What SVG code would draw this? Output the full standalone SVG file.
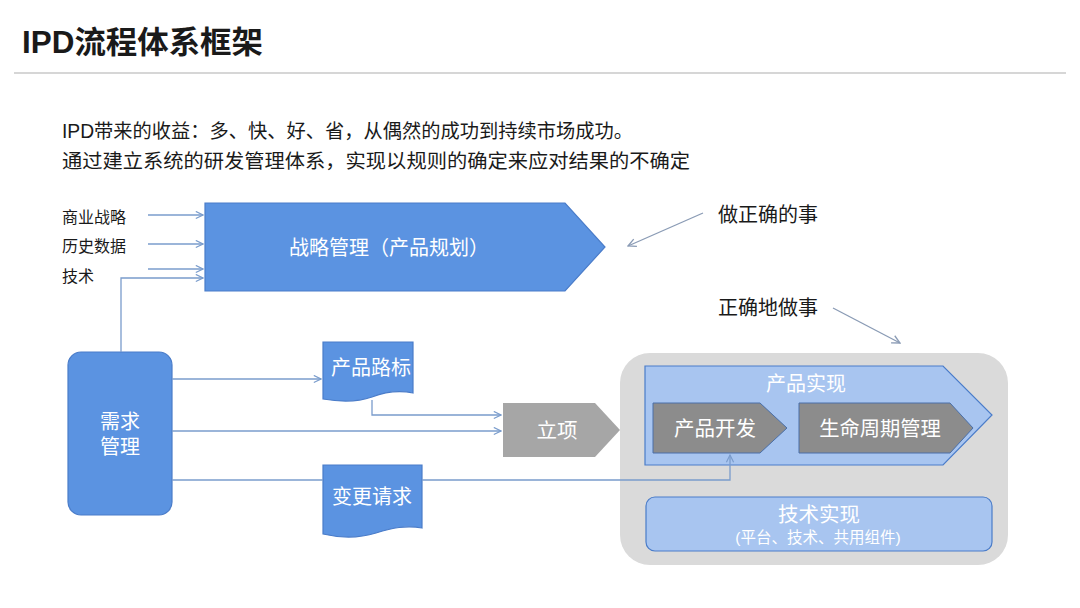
<svg xmlns="http://www.w3.org/2000/svg" width="1080" height="608" viewBox="0 0 1080 608">
<defs>
<style>
text{font-family:"Liberation Sans","Noto Sans CJK SC",sans-serif;}
.blk{fill:#1a1a1a;}
.wt{fill:#ffffff;}
.blue{fill:#5b93e1;stroke:#4a7cc9;stroke-width:1.2;}
.lb{fill:#a8c5f0;stroke:#4a7cc9;stroke-width:1.2;}
.gr{fill:#8c8c8c;stroke:#4a6fa8;stroke-width:1;}
.conn{fill:none;stroke:#7a9ccc;stroke-width:1.3;}
.ann{fill:none;stroke:#8a9bb5;stroke-width:1.3;}
</style>
<marker id="ah" viewBox="0 0 10 10" refX="9" refY="5" markerWidth="9" markerHeight="9" orient="auto" markerUnits="userSpaceOnUse">
<path d="M1,1 L9,5 L1,9" fill="none" stroke="#7a9ccc" stroke-width="1.3"/>
</marker>
<marker id="ah2" viewBox="0 0 10 10" refX="9" refY="5" markerWidth="10" markerHeight="10" orient="auto" markerUnits="userSpaceOnUse">
<path d="M1,1 L9,5 L1,9" fill="none" stroke="#8a9bb5" stroke-width="1.3"/>
</marker>
</defs>
<rect width="1080" height="608" fill="#ffffff"/>

<g id="header">
<text x="22" y="53" font-size="31" font-weight="bold" class="blk" textLength="241" lengthAdjust="spacingAndGlyphs">IPD流程体系框架</text>
<line x1="14" y1="73" x2="1066" y2="73" stroke="#c8c8c8" stroke-width="1.5"/>
<text x="62" y="138" font-size="19.5" class="blk" textLength="571" lengthAdjust="spacingAndGlyphs">IPD带来的收益：多、快、好、省，从偶然的成功到持续市场成功。</text>
<text x="62" y="168" font-size="19.5" class="blk" textLength="628" lengthAdjust="spacingAndGlyphs">通过建立系统的研发管理体系，实现以规则的确定来应对结果的不确定</text>
</g>

<g id="inputs">
<text x="62" y="223" font-size="16" class="blk">商业战略</text>
<text x="62" y="252" font-size="16" class="blk">历史数据</text>
<text x="62" y="282" font-size="16" class="blk">技术</text>
</g>

<g id="container">
<rect x="620" y="353" width="388" height="212" rx="30" fill="#dadada"/>
</g>

<g id="strategy">
<polygon points="205,203 565,203 605,247 565,291 205,291" class="blue"/>
<text x="389" y="255" font-size="20" text-anchor="middle" class="wt">战略管理（产品规划）</text>
</g>

<g id="demand">
<rect x="68" y="352" width="104" height="163" rx="13" class="blue"/>
<text x="120" y="429" font-size="20" text-anchor="middle" class="wt">需求</text>
<text x="120" y="454" font-size="20" text-anchor="middle" class="wt">管理</text>
</g>

<g id="roadmap">
<path d="M323,342 H413 V393 C398,390 385,392 372,397 C358,402 340,402 323,399 Z" class="blue"/>
<text x="371" y="375" font-size="20" text-anchor="middle" class="wt">产品路标</text>
</g>

<g id="change">
<path d="M323,465 H422 V528 C406,525 392,528 376,533 C360,538 340,538 323,534 Z" class="blue"/>
<text x="372" y="504" font-size="20" text-anchor="middle" class="wt">变更请求</text>
</g>

<g id="lixiang">
<polygon points="503,403 595,403 620,430 595,457 503,457" fill="#a6a6a6"/>
<text x="557" y="438" font-size="20.5" text-anchor="middle" class="wt">立项</text>
</g>

<g id="product-impl">
<polygon points="645,366 943,366 992,415 943,465 645,465" class="lb"/>
<text x="806" y="391" font-size="20" text-anchor="middle" class="wt">产品实现</text>
</g>

<g id="dev">
<polygon points="653,403 760,403 787,428 760,453 653,453" class="gr"/>
<text x="715" y="436" font-size="20.5" text-anchor="middle" class="wt">产品开发</text>
</g>

<g id="lifecycle">
<polygon points="799,403 950,403 973,428 950,453 799,453" class="gr"/>
<text x="880" y="436" font-size="20.3" text-anchor="middle" class="wt">生命周期管理</text>
</g>

<g id="tech-impl">
<rect x="646" y="497" width="346" height="54" rx="9" class="lb"/>
<text x="819" y="522" font-size="20.5" text-anchor="middle" class="wt">技术实现</text>
<text x="818" y="543" font-size="15.5" text-anchor="middle" class="wt">(平台、技术、共用组件)</text>
</g>

<g id="notes">
<text x="718" y="222" font-size="20" class="blk">做正确的事</text>
<text x="718" y="315" font-size="20" class="blk">正确地做事</text>
</g>

<g id="connectors">
<line x1="148" y1="215" x2="203" y2="215" class="conn" marker-end="url(#ah)"/>
<line x1="148" y1="244" x2="203" y2="244" class="conn" marker-end="url(#ah)"/>
<line x1="148" y1="269" x2="203" y2="269" class="conn" marker-end="url(#ah)"/>
<polyline points="121,352 121,278 203,278" class="conn" marker-end="url(#ah)"/>
<line x1="172" y1="379" x2="321" y2="379" class="conn" marker-end="url(#ah)"/>
<polyline points="372,400 372,415 501,415" class="conn" marker-end="url(#ah)"/>
<line x1="172" y1="431" x2="501" y2="431" class="conn" marker-end="url(#ah)"/>
<line x1="172" y1="480" x2="323" y2="480" class="conn"/>
<polyline points="422,480 730,480 730,455" class="conn" marker-end="url(#ah)"/>
<line x1="703" y1="213" x2="628" y2="246" class="ann" marker-end="url(#ah2)"/>
<line x1="833" y1="308" x2="900" y2="343" class="ann" marker-end="url(#ah2)"/>
</g>
</svg>
